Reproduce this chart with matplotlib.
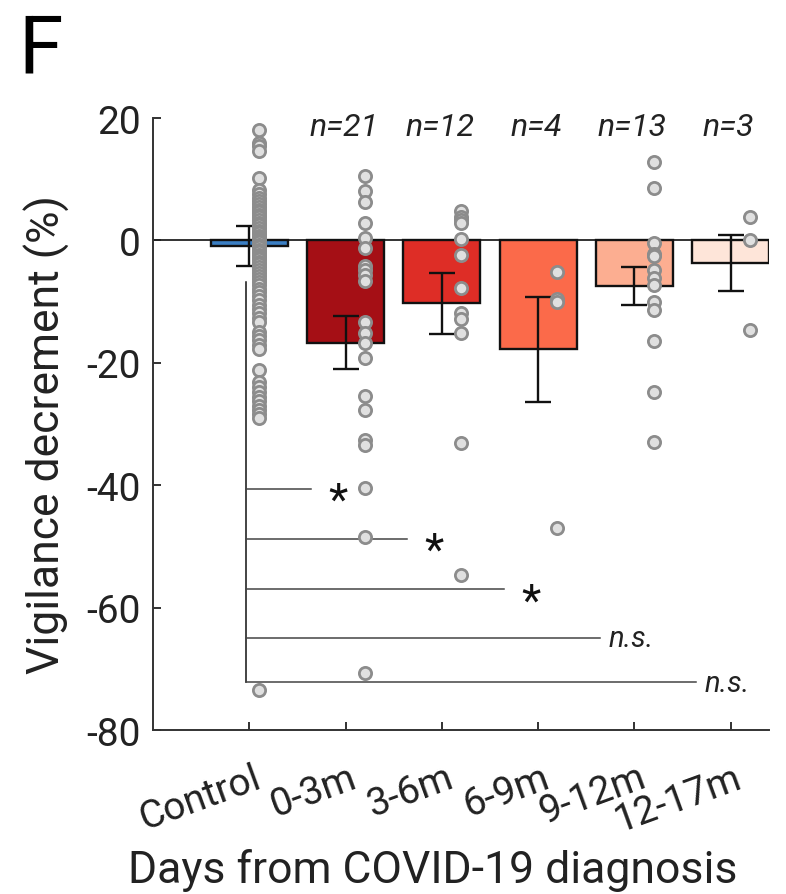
import numpy as np
import matplotlib
matplotlib.use('Agg')
import matplotlib.pyplot as plt
import matplotlib.transforms as mtransforms

plt.rcParams['font.family'] = ['Roboto', 'DejaVu Sans']

# groups and bar values (mean +/- sem)
groups = ['Control', '0-3m', '3-6m', '6-9m', '9-12m', '12-17m']
means = [-0.9, -16.7, -10.3, -17.8, -7.5, -3.7]
sems = [3.2, 4.3, 5.0, 8.6, 3.1, 4.6]
n_labels = ['', 'n=21', 'n=12', 'n=4', 'n=13', 'n=3']
bar_colors = ['#3b7fc4', '#a50f15', '#de2d26', '#fb6a4a', '#fcae91', '#fee5d9']

# individual subjects
control = [18.1, 16.0, 15.4, 14.6, 10.2, 8.2, 7.6, 7.0, 6.5, 6.0, 5.5, 5.0, 4.6,
           4.2, 3.8, 3.3, 2.9, 2.5, 2.0, 1.6, 1.2, 0.8, 0.4, 0.0, -0.3, -0.7,
           -1.1, -1.5, -1.9, -2.3, -2.7, -3.1, -3.5, -3.9, -4.3, -4.8, -5.3,
           -5.8, -6.3, -6.8, -7.3, -7.9, -8.5, -9.1, -9.7, -10.5, -11.2, -11.9,
           -12.6, -13.3, -14.9, -15.6, -16.3, -17.1, -17.8, -21.2, -23.2, -24.0,
           -24.8, -25.6, -26.3, -27.0, -27.7, -28.4, -29.0, -73.5]
m0_3 = [10.5, 8.0, 6.3, 2.9, 0.4, -1.2, -4.1, -4.9, -5.7, -6.7, -13.3, -15.2,
        -16.8, -19.2, -25.5, -27.7, -32.6, -33.4, -40.5, -48.5, -70.6]
m3_6 = [4.8, 3.9, 3.4, 2.9, 0.3, -2.3, -7.7, -11.8, -12.8, -15.2, -33.1, -54.6]
m6_9 = [-5.2, -9.5, -10.0, -47.0]
m9_12 = [12.8, 8.5, -0.5, -2.2, -2.6, -4.9, -6.2, -7.3, -10.0, -11.4, -16.5,
         -24.8, -32.9]
m12_17 = [3.8, 0.1, -14.7]
subjects = [control, m0_3, m3_6, m6_9, m9_12, m12_17]

# comparisons vs control
sig_y = [-40.6, -48.8, -57.0, -64.9, -72.2]
sig_text = ['*', '*', '*', 'n.s.', 'n.s.']

txt = '#222222'
fig = plt.figure(figsize=(7.86, 8.95), dpi=100)
ax = fig.add_axes([0.1949, 0.1832, 0.7837, 0.6838])

x = np.arange(1, len(groups) + 1)
ax.axhline(0, color='#222222', lw=1.3, zorder=1)
ax.bar(x, means, width=0.8, color=bar_colors, edgecolor='#111111', lw=1.7, zorder=2)
ax.errorbar(x, means, yerr=sems, fmt='none', ecolor='#111111', elinewidth=1.7,
            capsize=9.5, capthick=1.7, zorder=3)

for i, vals in enumerate(subjects):
    off = 0.1 if i == 0 else 0.2
    ax.plot(np.full(len(vals), x[i] + off), vals, 'o', ms=8.8, mfc='#e0e0e0',
            mec='#8c8c8c', mew=2.0, zorder=4)

for i, t in enumerate(n_labels):
    if t:
        ax.text(x[i] - 0.02, 18.6, t, ha='center', va='center', fontsize=23,
                style='italic', color=txt)

# significance brackets
x0 = 0.963
ax.plot([x0, x0], [-6.8, sig_y[-1]], color='#111111', lw=1.1, zorder=1)
for k, (yy, t) in enumerate(zip(sig_y, sig_text)):
    pos = x[k + 1]
    ax.plot([x0, pos - 0.36], [yy, yy], color='#444444', lw=1.1, zorder=1)
    if t == '*':
        ax.text(pos - 0.08, yy - 2.1, t, ha='center', va='center', fontsize=32,
                color='#111111')
    else:
        ax.text(pos - 0.27, yy - 1.4, t, ha='left', va='baseline', fontsize=21,
                style='italic', color=txt)

ax.set_xlim(0, 6.4)
ax.set_ylim(-80, 20)
ax.set_yticks([-80, -60, -40, -20, 0, 20])
ax.set_yticklabels(['-80', '-60', '-40', '-20', '0', '20'])
ax.set_xticks(x)
ax.set_xticklabels(groups, rotation=20, ha='right', va='center',
                   rotation_mode='anchor')
ax.tick_params(direction='in', length=6, width=1.3, labelsize=28, colors='#222222',
               labelcolor=txt)
ax.tick_params(axis='y', pad=9)
ax.tick_params(axis='x', pad=33)
shift = mtransforms.ScaledTranslation(10 / 100, 0, fig.dpi_scale_trans)
for lab in ax.get_xticklabels():
    lab.set_transform(lab.get_transform() + shift)
for s in ['top', 'right']:
    ax.spines[s].set_visible(False)
for s in ['left', 'bottom']:
    ax.spines[s].set_linewidth(1.4)
    ax.spines[s].set_color('#333333')

fig.text(0.06, 0.515, 'Vigilance decrement (%)', rotation=90, ha='center',
         va='center', fontsize=32, color=txt)
fig.text(0.551, 0.0134, 'Days from COVID-19 diagnosis', ha='center',
         va='baseline', fontsize=32, color=txt)
fig.text(0.023, 0.9184, 'F', fontsize=58, ha='left', va='baseline', color='black')

fig.savefig('out.png', dpi=100)
